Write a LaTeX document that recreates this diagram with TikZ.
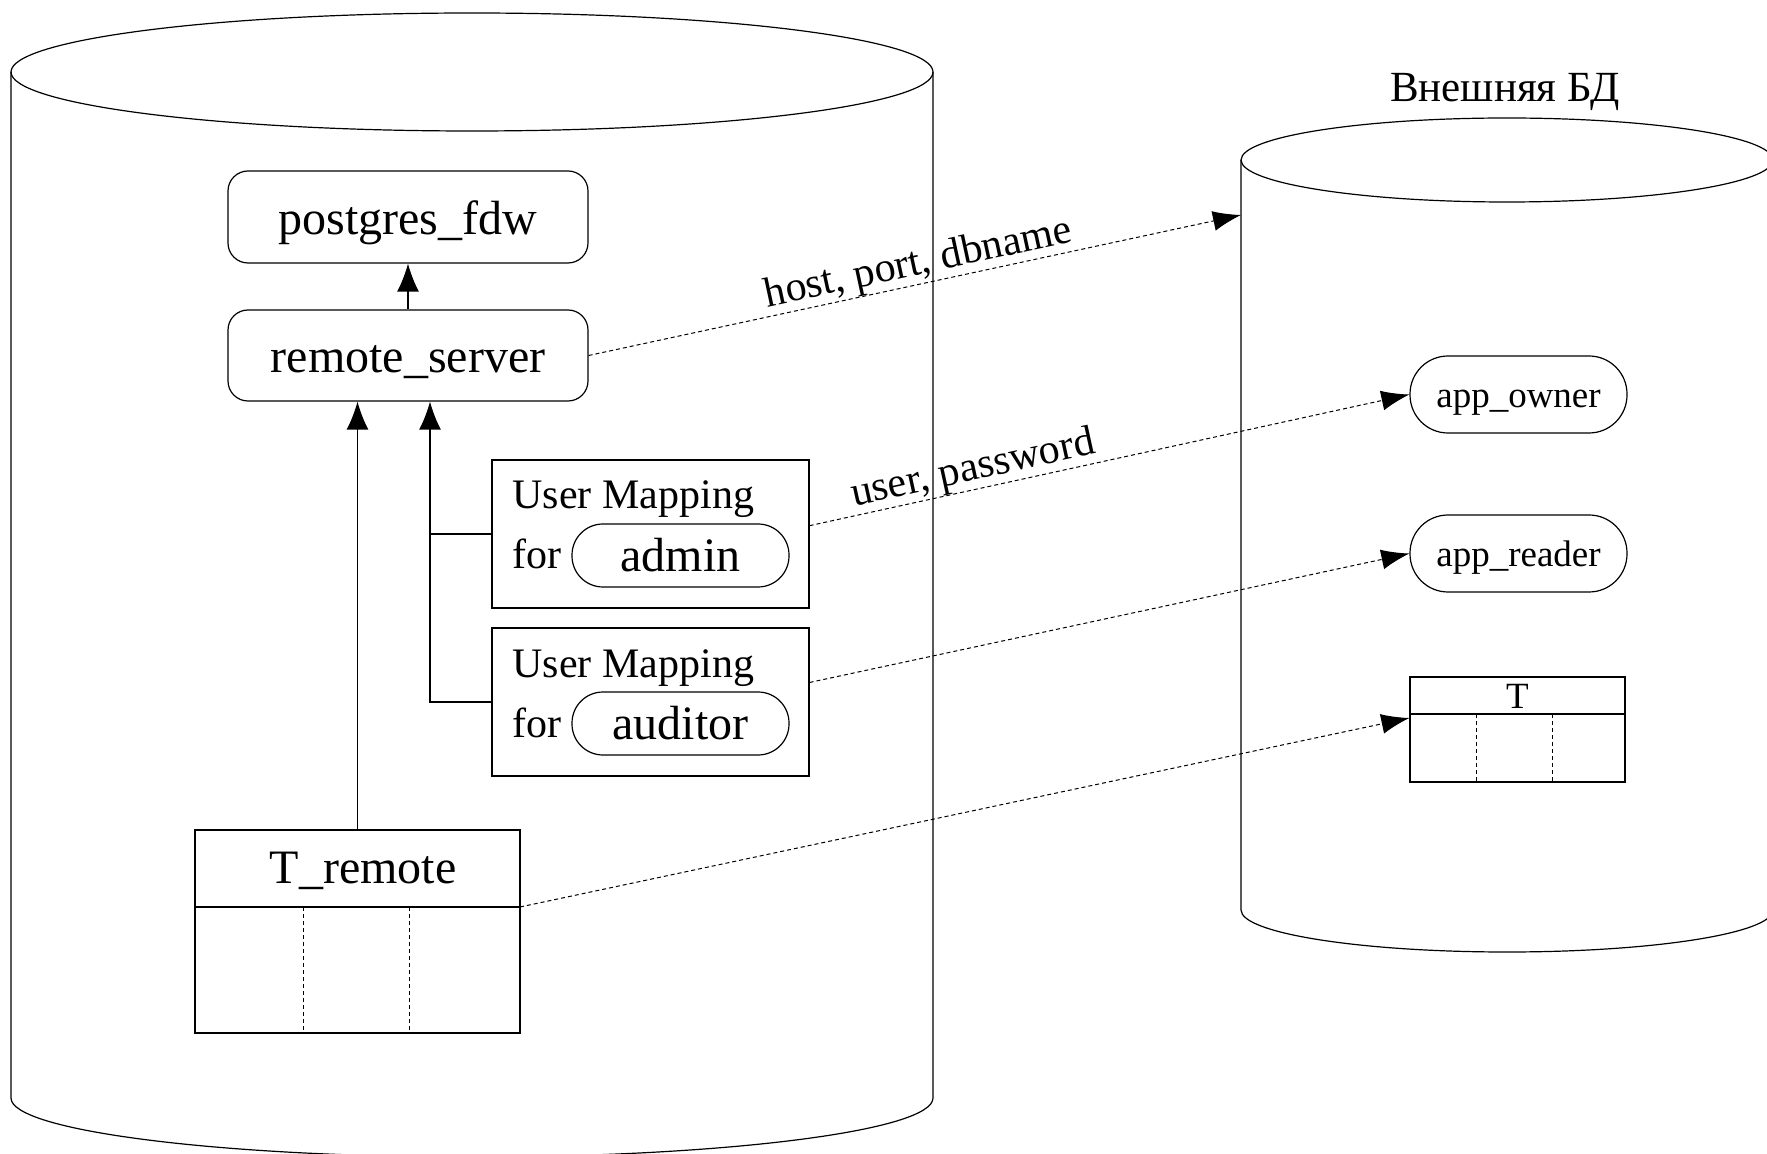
\documentclass[tikz,border=0pt]{standalone}
\usepackage{fontspec}
\setmainfont{Liberation Serif}
\usetikzlibrary{arrows.meta}
\begin{document}
\begin{tikzpicture}[x=0.5pt,y=-0.5pt, line width=0.6pt,
 roundbox/.style={draw, rounded corners=10pt, minimum width=180pt, minimum height=46pt, inner sep=0pt, text depth=0pt, font=\fontsize{24}{28}\selectfont},
 umbox/.style={draw, minimum width=158.5pt, minimum height=74pt, inner sep=0pt},
 umtext/.style={anchor=base west, inner sep=0pt, font=\fontsize{21}{25}\selectfont},
 userpill/.style={draw, rounded corners=15.5pt, minimum width=108.5pt, minimum height=31.5pt, inner sep=0pt, font=\fontsize{24}{28}\selectfont},
 rolepill/.style={draw, rounded corners=19pt, minimum width=108.5pt, minimum height=38.5pt, inner sep=0pt, text height=12.7pt, text depth=0pt, font=\fontsize{18.5}{22}\selectfont},
 tablebox/.style={draw, inner sep=0pt},
 colsep/.style={dash pattern=on 2pt off 1.5pt, line width=0.5pt},
 link/.style={dash pattern=on 2pt off 1.5pt, line width=0.5pt, -{Latex[length=14pt,width=10pt]}},
 solidarrow/.style={-{Latex[length=14pt,width=11pt]}},
 lbl/.style={sloped, above, inner sep=0pt, font=\fontsize{21}{25}\selectfont}
]
\path[use as bounding box] (0,0) rectangle (1767,1154);
\clip (0,0) rectangle (1767,1154);

% left database cylinder
\draw (472,72) ellipse [x radius=461, y radius=59];
\draw (11,72) -- (11,1098) arc[start angle=180, end angle=0, x radius=461, y radius=59] -- (933,72);

% right database cylinder
\node[anchor=base, inner sep=0pt, font=\fontsize{21.5}{26}\selectfont] (title) at (1505,102) {Внешняя БД};
\draw (1507,160) ellipse [x radius=266, y radius=42];
\draw (1241,160) -- (1241,910) arc[start angle=180, end angle=0, x radius=266, y radius=42] -- (1773,160);
\coordinate (extdb) at (1241,215);

% left nodes
\node[roundbox, text height=18pt] (pg) at (408,217) {postgres\_fdw};
\node[roundbox, minimum height=45.5pt, text height=16.8pt] (rs) at (408,355.5) {remote\_server};

\node[umbox] (um1) at (650.5,534) {};
\node[umtext] (um1t) at (512,509) {User Mapping};
\node[umtext] (um1f) at (512,569) {for};
\node[userpill] (admin) at (680.5,555.5) {admin};

\node[umbox] (um2) at (650.5,702) {};
\node[umtext] (um2t) at (512,677) {User Mapping};
\node[umtext] (um2f) at (512,737) {for};
\node[userpill] (auditor) at (680.5,723.5) {auditor};

\node[tablebox, minimum width=162.5pt, minimum height=101.5pt] (trem) at (357.5,931.5) {};
\node[anchor=base, inner sep=0pt, font=\fontsize{24}{28}\selectfont] (tremt) at (363,883) {T\_remote};
\coordinate (tremhl) at (195,907);
\coordinate (tremhr) at (520,907);
\draw (tremhl) -- (tremhr);
\draw[colsep] (303,907) -- (303,1033);
\draw[colsep] (409,907) -- (409,1033);

% right nodes
\node[rolepill] (owner) at (1518.5,394.5) {app\_owner};
\node[rolepill] (reader) at (1518.5,553.5) {app\_reader};
\node[tablebox, minimum width=107.5pt, minimum height=52.5pt] (tt) at (1517.5,729.5) {};
\node[inner sep=0pt, font=\fontsize{18.5}{22}\selectfont] (ttt) at (1517.5,696) {T};
\draw (1410,714) -- (1625,714);
\draw[colsep] (1476,714) -- (1476,782);
\draw[colsep] (1552,714) -- (1552,782);

% solid connectors
\coordinate (jn) at ([xshift=11pt]rs.south);
\draw[solidarrow] (rs.north) -- (pg.south);
\draw[solidarrow] (trem.north) -- (trem.north |- rs.south);
\draw[solidarrow] (um2.west) -| (jn);
\draw (um1.west) -- (um1.west -| jn);

% dashed links
\draw[link] (rs.east) -- node[lbl, pos=0.512] {host, port, dbname} (extdb);
\draw[link] (um1.3) -- node[lbl, pos=0.28] {user, password} (owner.west);
\draw[link] (um2.7) -- (reader.west);
\draw[link] (tremhr) -- ([yshift=5.75pt]tt.west);
\end{tikzpicture}
\end{document}
